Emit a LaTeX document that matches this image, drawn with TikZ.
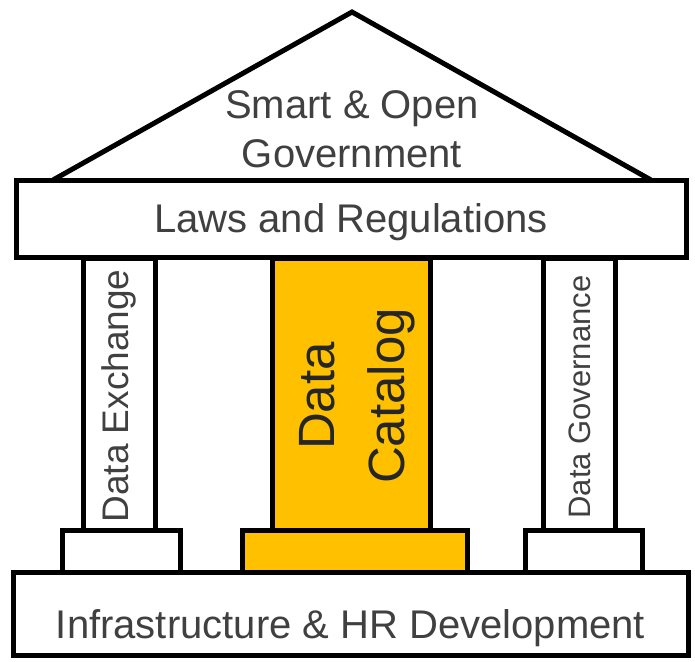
\documentclass[tikz,border=0pt]{standalone}
\usepackage{fontspec}
\setmainfont{Liberation Sans}
\definecolor{gold}{HTML}{FFC000}

\begin{document}
\begin{tikzpicture}[x=1pt,y=-1pt,
  slab/.style={draw,line width=5pt,fill=white,inner sep=0pt},
  words/.style={text=black!75,font=\fontsize{40}{49}\selectfont,align=center,inner sep=0pt}]
\useasboundingbox (0,0) rectangle (695,661);
% roof
\coordinate (top)   at (352,12);
\coordinate (eaveL) at (53,180);
\coordinate (eaveR) at (651,180);
\draw[line width=5pt,fill=white] (eaveL) -- (top) -- (eaveR);
\node[words,anchor=base] (gov) at (352,167) {Smart \& Open\\Government};
\node[slab,minimum width=670pt,minimum height=77pt] (laws) at (351,219) {};
\node[words,anchor=base] (lawsT) at (laws.center |- 0,232) {Laws and Regulations};
% pillars
\node[slab,rotate=90,minimum width=272pt,minimum height=72pt] (exch) at (119,394) {};
\node[slab,fill=gold,minimum width=158pt,minimum height=272pt] (cat) at (351,394) {};
\node[slab,rotate=90,minimum width=272pt,minimum height=72pt] (govn) at (579,394) {};
\node[words,rotate=90,font=\fontsize{37}{40}\selectfont] (exchT) at (119,396) {Data Exchange};
\node[words,rotate=90,text=black!85,font=\fontsize{51}{70}\selectfont] (catT) at (357,396) {Data\\Catalog};
\node[words,rotate=90,font=\fontsize{31}{36}\selectfont] (govnT) at (580,397) {Data Governance};
% bases
\node[slab,minimum width=118pt,minimum height=42pt] (exchB) at (121,551) {};
\node[slab,fill=gold,minimum width=225pt,minimum height=42pt] (catB) at (354.5,551) {};
\node[slab,minimum width=117pt,minimum height=42pt] (govnB) at (583.5,551) {};
\node[slab,minimum width=675pt,minimum height=83pt] (infra) at (350.5,613.5) {};
\node[words,anchor=base] (infraT) at (infra.center |- 0,638) {Infrastructure \& HR Development};
\end{tikzpicture}
\end{document}
